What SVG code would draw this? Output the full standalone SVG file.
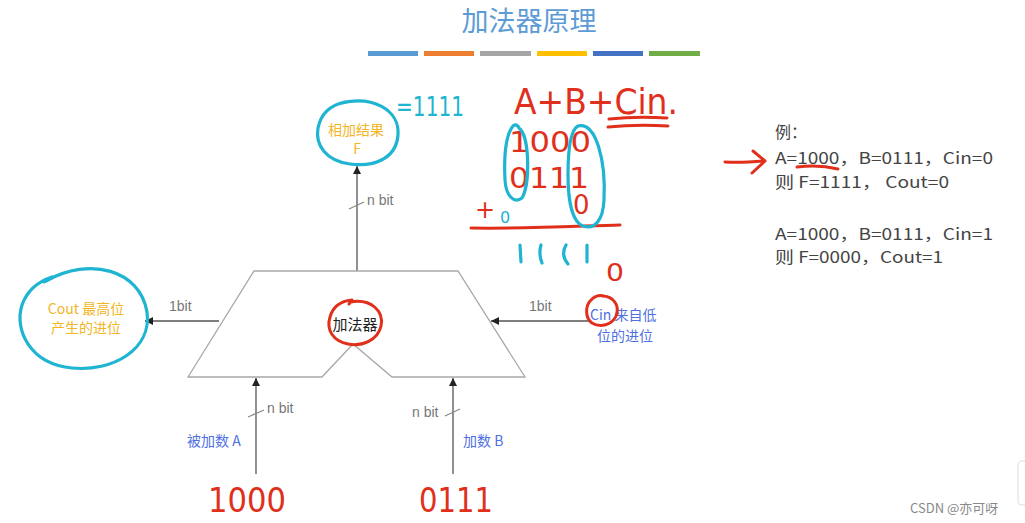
<svg xmlns="http://www.w3.org/2000/svg" width="1025" height="523" viewBox="0 0 1025 523">
<defs>
<marker id="arr" viewBox="0 0 10 10" refX="10" refY="5" markerWidth="8" markerHeight="8" markerUnits="userSpaceOnUse" orient="auto">
<path d="M0,0 L10,5 L0,10 z" fill="#222"/>
</marker>
<style>
.cjk{font-family:"Noto Sans CJK SC","Liberation Sans",sans-serif}
.lbl{font-family:"Liberation Sans","Noto Sans CJK SC",sans-serif;font-size:14px;fill:#777}
.yel{font-size:14px;fill:#f2b526}
.blu{font-size:14px;fill:#4f6fe3}
.ex{font-size:16px;fill:#444}
.hw{font-family:"DejaVu Sans",sans-serif;font-weight:normal}
.red{fill:#e0301c}
.cy{fill:#1eb4d2}
.sred{fill:none;stroke:#e0301c;stroke-width:3;stroke-linecap:round;stroke-linejoin:round}
.scy{fill:none;stroke:#1eb4d2;stroke-width:3.2;stroke-linecap:round;stroke-linejoin:round}
.conn{fill:none;stroke:#555;stroke-width:1.3}
.tick{fill:none;stroke:#888;stroke-width:1.2}
</style>
</defs>
<rect width="1025" height="523" fill="#fff"/>

<!-- title -->
<g id="title">
<text class="cjk" x="529" y="31" font-size="27" fill="#5d9bd6" text-anchor="middle">加法器原理</text>
<rect x="368" y="51" width="50" height="5" fill="#5b9bd5"/>
<rect x="424" y="51" width="50" height="5" fill="#ed7d31"/>
<rect x="480" y="51" width="51" height="5" fill="#a5a5a5"/>
<rect x="537" y="51" width="50" height="5" fill="#ffc000"/>
<rect x="593" y="51" width="50" height="5" fill="#4472c4"/>
<rect x="649" y="51" width="51" height="5" fill="#70ad47"/>
</g>

<!-- connectors -->
<g id="connectors">
<line class="conn" x1="357" y1="271" x2="357" y2="166" marker-end="url(#arr)"/>
<line class="tick" x1="349" y1="209" x2="364" y2="202"/>
<line class="conn" x1="219" y1="321" x2="145" y2="321" marker-end="url(#arr)"/>
<line class="conn" x1="590" y1="321" x2="491" y2="321" marker-end="url(#arr)"/>
<line class="conn" x1="256" y1="474" x2="256" y2="378" marker-end="url(#arr)"/>
<line class="tick" x1="248" y1="417" x2="264" y2="410"/>
<line class="conn" x1="453" y1="474" x2="453" y2="378" marker-end="url(#arr)"/>
<line class="tick" x1="445" y1="416" x2="460" y2="409"/>
<text class="lbl" x="367" y="205">n bit</text>
<text class="lbl" x="169" y="311">1bit</text>
<text class="lbl" x="529" y="311">1bit</text>
<text class="lbl" x="267" y="413">n bit</text>
<text class="lbl" x="412" y="417">n bit</text>
</g>

<!-- adder node -->
<g id="adder">
<path d="M254,271 L458,271 L525,377 L392,377 L353,344 L322,377 L188,377 Z" fill="#fff" stroke="#a8a8a8" stroke-width="1.3"/>
<text class="cjk" x="355" y="330" font-size="15" fill="#222" text-anchor="middle">加法器</text>
<path class="sred" d="M350,302 C372,298 384,312 381,326 C378,340 362,347 348,344 C333,341 326,330 330,317 C333,306 342,301 352,300 l-3,4"/>
</g>

<!-- result node -->
<g id="result">
<path class="scy" d="M338,104 C372,94 400,110 398,135 C396,160 372,167 350,164 C326,161 315,145 318,128 C321,113 331,105 345,102"/>
<text class="cjk yel" x="356" y="135" text-anchor="middle">相加结果</text>
<text class="cjk yel" x="357" y="154" text-anchor="middle">F</text>
<text class="hw cy" x="396" y="116" font-size="27" textLength="68" lengthAdjust="spacingAndGlyphs">=1111</text>
</g>

<!-- cout node -->
<g id="cout">
<path class="scy" d="M46,281 C90,256 140,270 147,312 C152,350 112,372 72,368 C30,364 14,330 22,305 C28,288 40,281 52,277 l-8,5"/>
<text class="cjk yel" x="86" y="314" text-anchor="middle">Cout 最高位</text>
<text class="cjk yel" x="86" y="333" text-anchor="middle">产生的进位</text>
</g>

<!-- cin node -->
<g id="cin">
<text class="cjk blu" x="590" y="320">Cin 来自低</text>
<text class="cjk blu" x="597" y="341">位的进位</text>
<path class="sred" d="M602,296 C614,296 620,306 616,316 C612,325 600,328 592,323 C585,318 585,306 591,300 C595,296 600,295 604,296"/>
<text class="hw red" x="606" y="281" font-size="24" textLength="18" lengthAdjust="spacingAndGlyphs">0</text>
</g>

<!-- input A -->
<g id="inputA">
<text class="cjk blu" x="187" y="446">被加数 A</text>
<text class="hw red" x="208" y="512" font-size="34" textLength="78" lengthAdjust="spacingAndGlyphs">1000</text>
</g>

<!-- input B -->
<g id="inputB">
<text class="cjk blu" x="463" y="446">加数 B</text>
<text class="hw red" x="419" y="512" font-size="34" textLength="74" lengthAdjust="spacingAndGlyphs">0111</text>
</g>

<!-- handwritten calculation -->
<g id="calc">
<text class="hw red" x="514" y="114" font-size="36" textLength="164" lengthAdjust="spacingAndGlyphs">A+B+Cin.</text>
<path class="sred" d="M609,119 C628,117 650,117 667,118 M608,127 C628,125 650,125 668,126"/>
<text class="hw red" x="509" y="152" font-size="28" textLength="82" lengthAdjust="spacingAndGlyphs">1000</text>
<text class="hw red" x="509" y="188" font-size="28" textLength="80" lengthAdjust="spacingAndGlyphs">0111</text>
<text class="hw red" x="475" y="218" font-size="24">+</text>
<text class="hw cy" x="500" y="223" font-size="16">0</text>
<text class="hw red" x="573" y="214" font-size="26">0</text>
<path class="sred" d="M471,228 C520,229 580,226 620,225"/>
<path class="scy" d="M519,128 C530,136 530,185 522,198 C514,204 506,196 505,180 C504,160 505,136 513,126 C515,124 518,125 519,128"/>
<path class="scy" d="M578,126 C596,122 606,160 604,200 C603,220 595,230 583,226 C572,222 568,200 568,175 C568,150 570,130 578,126"/>
<path class="scy" d="M520,245 L521,262 M541,245 C539,252 540,258 542,263 M566,245 C562,252 563,258 568,264 M587,245 L587,262"/>
</g>

<!-- example text -->
<g id="example">
<text class="cjk ex" x="775" y="138">例：</text>
<text class="cjk ex" x="775" y="164" textLength="218" lengthAdjust="spacingAndGlyphs">A=1000，B=0111，Cin=0</text>
<text class="cjk ex" x="775" y="188" textLength="174" lengthAdjust="spacingAndGlyphs">则 F=1111， Cout=0</text>
<text class="cjk ex" x="775" y="240" textLength="218" lengthAdjust="spacingAndGlyphs">A=1000，B=0111，Cin=1</text>
<text class="cjk ex" x="775" y="263" textLength="168" lengthAdjust="spacingAndGlyphs">则 F=0000，Cout=1</text>
<path class="sred" d="M725,162 C740,163 752,162 765,161 M753,151 L765,161 L752,173"/>
<path class="sred" stroke-width="2.2" d="M797,167 C812,165 826,166 838,169"/>
</g>

<!-- watermark -->
<g id="watermark">
<text class="cjk" x="910" y="513" font-size="13" fill="#888">CSDN @亦可呀</text>
<path d="M1025,461 L1022,461 Q1018,461 1018,466 L1018,500 Q1018,505 1022,505 L1025,505" fill="none" stroke="#ddd" stroke-width="1"/>
</g>
</svg>
